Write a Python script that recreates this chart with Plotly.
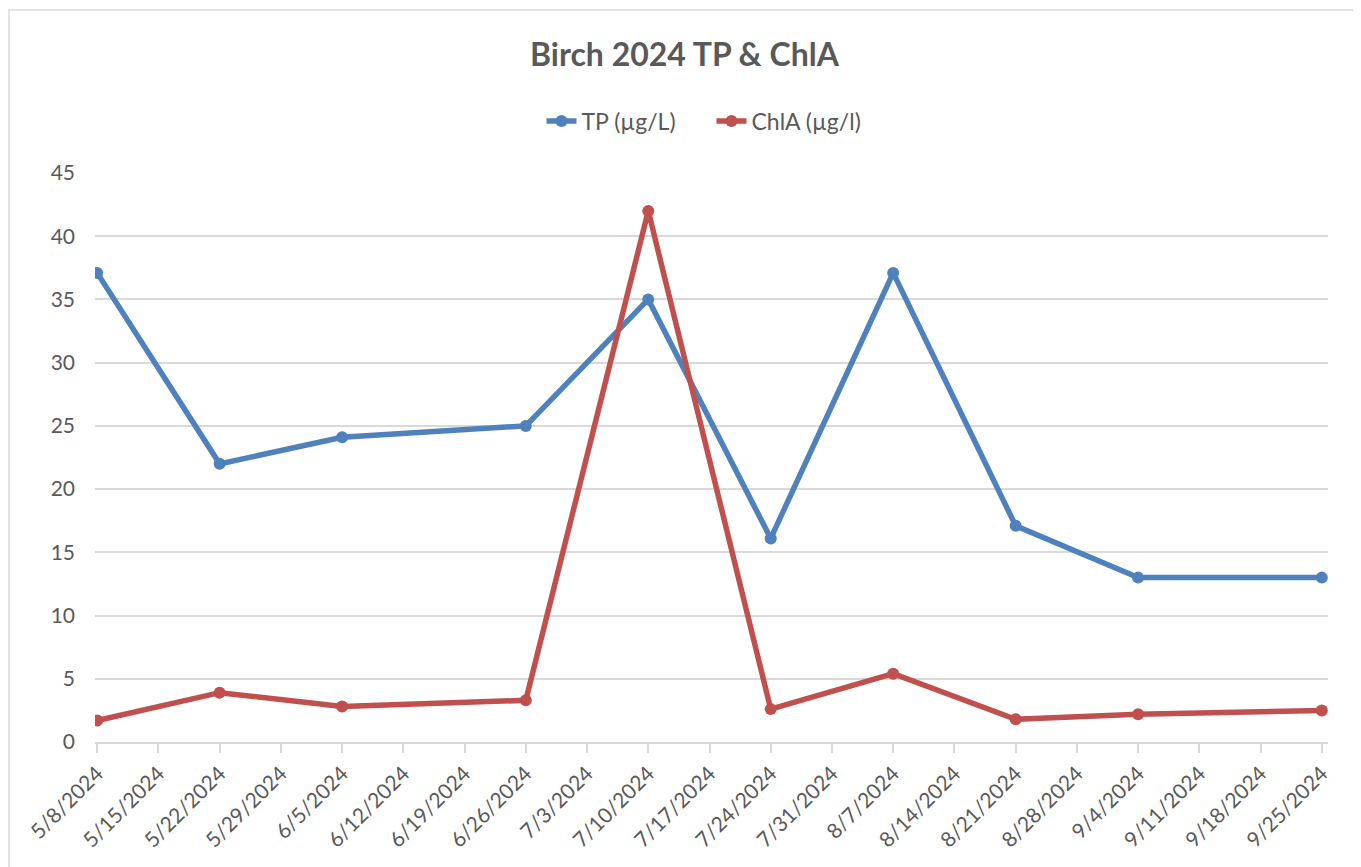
import plotly.graph_objects as go
from datetime import date, timedelta

dates = ["2024-05-08", "2024-05-22", "2024-06-05", "2024-06-26", "2024-07-10",
         "2024-07-24", "2024-08-07", "2024-08-21", "2024-09-04", "2024-09-25"]
tp = [37.1, 22.0, 24.1, 25.0, 35.0, 16.1, 37.1, 17.1, 13.0, 13.0]
chla = [1.7, 3.9, 2.8, 3.3, 42.0, 2.6, 5.4, 1.8, 2.2, 2.5]

start = date(2024, 5, 8)
tick_dates = [start + timedelta(days=7 * i) for i in range(21)]
tick_vals = [d.isoformat() for d in tick_dates]
tick_text = [f"{d.month}/{d.day}/{d.year}" for d in tick_dates]

FONT = "Lato, 'Open Sans', sans-serif"
GRAY = "#595959"

W, H = 1353, 859
L, R, T, B = 87, 33, 165, 125
PW, PH = W - L - R, H - T - B

fig = go.Figure()
fig.add_trace(go.Scatter(x=dates, y=tp, name="TP (µg/L)", mode="lines+markers",
                         line=dict(color="#4F81BD", width=5.5),
                         marker=dict(size=12, color="#4F81BD")))
fig.add_trace(go.Scatter(x=dates, y=chla, name="ChlA (µg/l)", mode="lines+markers",
                         line=dict(color="#C0504D", width=5.5),
                         marker=dict(size=12, color="#C0504D")))

fig.update_layout(
    width=W, height=H,
    margin=dict(l=L, r=R, t=T, b=B),
    paper_bgcolor="white", plot_bgcolor="white",
    font=dict(family=FONT, color=GRAY),
    title=dict(text="<b>Birch 2024 TP &amp; ChlA</b>", x=0.5, xanchor="center",
               y=1 - 47 / H, yanchor="middle",
               font=dict(size=32, color=GRAY, family=FONT)),
    legend=dict(orientation="h", x=0.5, xanchor="center", y=1 + 52 / PH, yanchor="middle",
                font=dict(size=23, color=GRAY), bgcolor="rgba(0,0,0,0)",
                entrywidth=125, entrywidthmode="pixels"),
    showlegend=True,
)
fig.update_xaxes(
    type="date",
    range=["2024-05-07 18:00", "2024-09-25 17:00"],
    tickmode="array", tickvals=tick_vals, ticktext=tick_text,
    tickangle=-45, tickfont=dict(size=21, color=GRAY),
    showgrid=False, showline=True, linecolor="#d9d9d9", linewidth=2,
    ticks="outside", ticklen=9, tickcolor="#d9d9d9", tickwidth=2,
)
fig.update_yaxes(
    range=[0, 45], dtick=5, tickfont=dict(size=21, color=GRAY),
    showgrid=True, gridcolor="#d9d9d9", gridwidth=1.5,
    zeroline=False, showline=False, ticks="", ticklabelstandoff=19,
)
fig.add_shape(type="rect", xref="paper", yref="paper",
              x0=(1 - L) / PW, x1=1 + 60 / PW, y0=-200 / PH, y1=1 + (T - 2) / PH,
              line=dict(color="#d9d9d9", width=1.5), fillcolor="rgba(0,0,0,0)", layer="below")

fig.write_html("out.html")
